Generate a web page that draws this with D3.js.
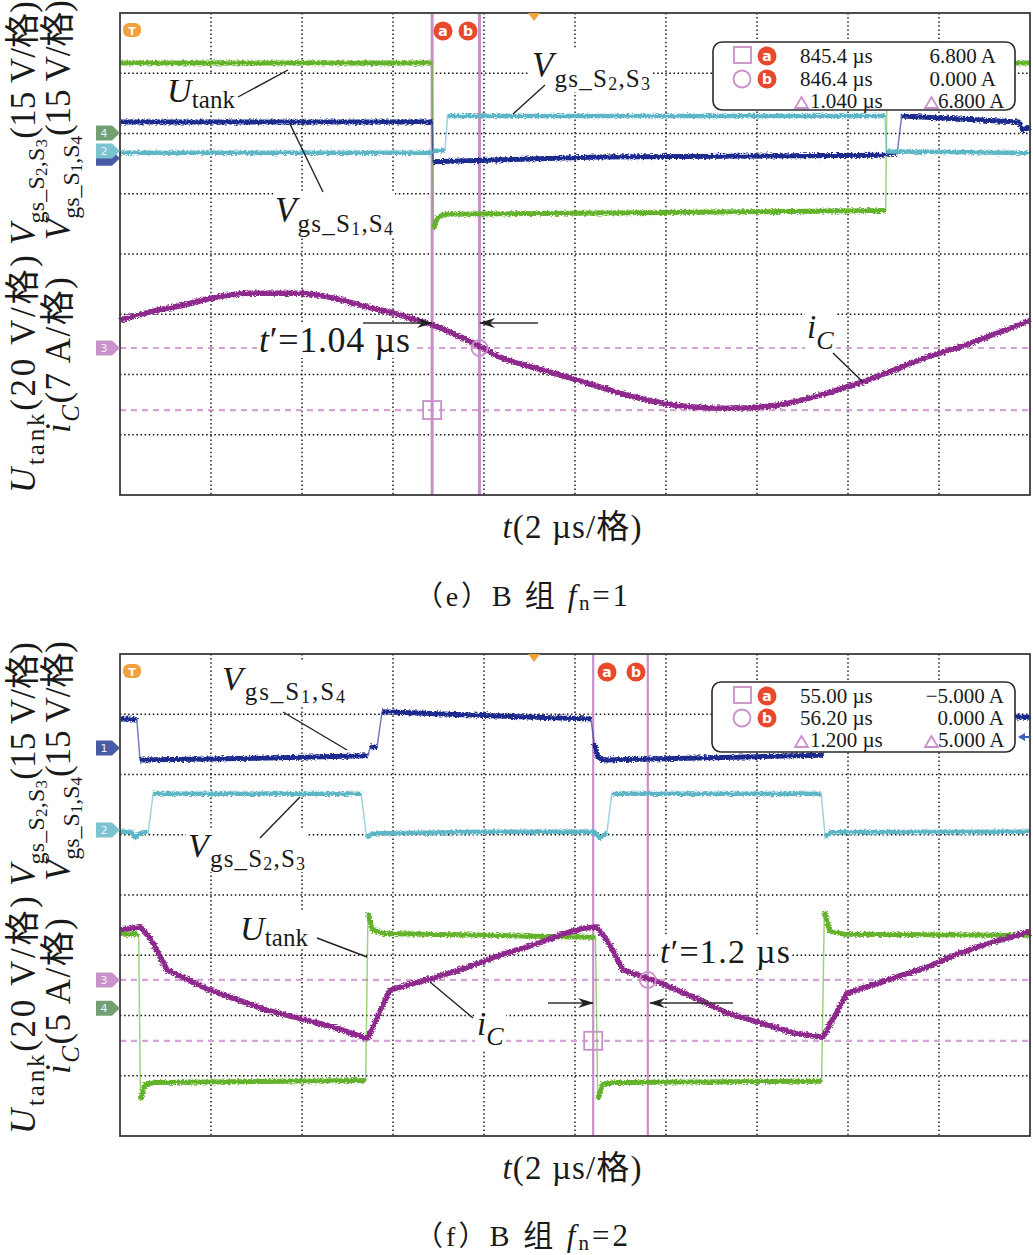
<!DOCTYPE html>
<html><head><meta charset="utf-8">
<script src="https://cdn.jsdelivr.net/npm/d3@7"></script>
<style>
html,body{margin:0;padding:0;background:#fff;}
svg{display:block;}
</style></head><body>
<svg id="chart" width="1033" height="1255"></svg>
<script>
// ================= DATA =================
// time axis: 10 div x 2 µs ; vertical: 8 div (values in divisions from bottom)
const timeDomain = [0, 20];
const divDomain = [0, 8];
const gridTimes = [2, 4, 6, 8, 10, 12, 14, 16, 18];
const gridDivs = [1, 2, 3, 4, 5, 6, 7];

// ---- panel (e) B 组 fn=1 ----
const eUtank = [
  [[0, 7.17], [6.86, 7.17]],
  [[6.89, 4.42], [6.96, 4.58], [7.10, 4.66], [12.0, 4.69], [16.83, 4.72]],
  [[16.86, 7.16], [20, 7.17]]
];
const eVgsS1S4 = [
  [[0, 6.19], [6.86, 6.19]],
  [[6.88, 5.53], [10.5, 5.61], [16.81, 5.64]],
  [[16.84, 5.67], [17.08, 5.67]],
  [[17.18, 6.29], [19.0, 6.22], [19.75, 6.19], [19.85, 6.06], [20, 6.10]]
];
const eVgsS2S3 = [
  [[0, 5.68], [6.86, 5.68]],
  [[6.88, 5.71], [7.14, 5.72]],
  [[7.20, 6.29], [16.81, 6.29]],
  [[16.85, 5.70], [20, 5.68]]
];
const eIcT = [0, 0.66, 1.38, 2.02, 2.86, 3.96, 4.68, 5.43, 6.00, 6.53, 6.88, 7.63, 7.98, 8.35, 9.08, 9.82, 10.55, 10.99, 11.87, 12.59, 13.34, 14.07, 14.79, 15.54, 16.26, 16.99, 17.74, 18.46, 19.19, 20];
const eIcV = [2.90, 3.04, 3.15, 3.27, 3.35, 3.35, 3.27, 3.12, 3.02, 2.90, 2.82, 2.57, 2.44, 2.29, 2.12, 1.96, 1.79, 1.69, 1.53, 1.46, 1.44, 1.46, 1.54, 1.69, 1.86, 2.07, 2.29, 2.46, 2.66, 2.90];
const eCursorT = [6.86, 7.90];          // cursor a, b (µs)
const eRefLevels = [2.44, 1.41];         // iC zero level, cursor-a level (div)
const eChanZero = [5.59, 5.71, 2.44, 6.01]; // ch1..ch4 offset markers (div)
const eReadTimes = ['845.4 µs', '846.4 µs', '1.040 µs'];
const eReadAmps = ['6.800 A', '0.000 A', '6.800 A'];

// ---- panel (f) B 组 fn=2 ----
const fVgsS1S4 = [
  [[0, 6.92], [0.37, 6.92]],
  [[0.44, 6.24], [3.0, 6.27], [5.45, 6.31]],
  [[5.50, 6.46], [5.65, 6.46]],
  [[5.76, 7.04], [8.0, 6.98], [10.35, 6.92]],
  [[10.42, 6.52], [10.50, 6.30], [10.60, 6.24], [13.0, 6.28], [15.45, 6.32]],
  [[15.50, 6.46], [15.65, 6.46]],
  [[15.76, 7.02], [20, 6.95]]
];
const fVgsS2S3 = [
  [[0, 5.05], [0.25, 5.05], [0.33, 4.95], [0.45, 5.03], [0.62, 5.05]],
  [[0.73, 5.68], [5.30, 5.68]],
  [[5.42, 4.95], [5.55, 5.02], [8.0, 5.05], [10.40, 5.05], [10.55, 4.95], [10.70, 5.03]],
  [[10.81, 5.68], [15.41, 5.68]],
  [[15.50, 4.96], [15.62, 5.04], [20, 5.05]]
];
const fUtank = [
  [[0, 3.35], [0.41, 3.35]],
  [[0.45, 0.60], [0.55, 0.86], [0.80, 0.89], [5.40, 0.92]],
  [[5.45, 3.71], [5.55, 3.42], [5.80, 3.36], [10.45, 3.30]],
  [[10.50, 0.60], [10.60, 0.86], [10.90, 0.89], [15.42, 0.91]],
  [[15.48, 3.72], [15.60, 3.40], [15.90, 3.35], [20, 3.33]]
];
const fIcT = [0, 0.44, 0.66, 1.03, 1.98, 3.23, 4.68, 5.34, 5.45, 5.93, 6.15, 6.88, 7.63, 8.35, 9.08, 9.82, 10.18, 10.48, 10.77, 11.05, 11.87, 12.59, 13.34, 14.07, 14.79, 15.45, 15.98, 16.99, 17.74, 18.46, 19.19, 20];
const fIcV = [3.42, 3.47, 3.29, 2.76, 2.42, 2.09, 1.81, 1.64, 1.63, 2.42, 2.47, 2.62, 2.80, 3.00, 3.17, 3.37, 3.45, 3.47, 3.17, 2.76, 2.54, 2.31, 2.04, 1.88, 1.71, 1.64, 2.37, 2.62, 2.80, 3.04, 3.22, 3.39];
const fCursorT = [10.40, 11.60];
const fRefLevels = [2.59, 1.58];
const fChanZero = [6.44, 5.08, 2.59, 2.12];
const fReadTimes = ['55.00 µs', '56.20 µs', '1.200 µs'];
const fReadAmps = ['−5.000 A', '0.000 A', '5.000 A'];

// ================= STYLE =================
const SERIF = "'Liberation Serif','Times New Roman','Noto Sans CJK SC',serif";
const COL = {
  green: '#63b32b', blue: '#1b2a8e', cyan: '#5cb6c7', purple: '#8e2a8e',
  cursor: '#c98fc9', ref: '#d7a2d7', badge: '#e8492c', orange: '#f2a23c',
  tag1: '#4a5ba6', tag2: '#7cc3d0', tag3: '#c992c9', tag4: '#72a072'
};
const INK = '#1a1a1a';

const svg = d3.select('#chart');
const defs = svg.append('defs');
const filt = defs.append('filter').attr('id', 'jit')
  .attr('filterUnits', 'userSpaceOnUse').attr('x', 0).attr('y', 0).attr('width', 1033).attr('height', 1255);
filt.append('feTurbulence').attr('type', 'fractalNoise').attr('baseFrequency', '0.45 0.9')
  .attr('numOctaves', 2).attr('seed', 7).attr('result', 'n');
filt.append('feDisplacementMap').attr('in', 'SourceGraphic').attr('in2', 'n')
  .attr('scale', 5).attr('xChannelSelector', 'R').attr('yChannelSelector', 'G');

defs.append('marker').attr('id', 'arr').attr('viewBox', '0 0 16 10')
  .attr('refX', 15).attr('refY', 5).attr('markerWidth', 16).attr('markerHeight', 10)
  .attr('markerUnits', 'userSpaceOnUse').attr('orient', 'auto')
  .append('path').attr('d', 'M0,0 L16,5 L0,10 L5,5 Z').attr('fill', '#222');

// ---------- rich text helper ----------
function rich(g, x, y, parts, o = {}) {
  const t = g.append('text').attr('x', x).attr('y', y)
    .attr('font-family', SERIF).attr('fill', INK);
  if (o.anchor) t.attr('text-anchor', o.anchor);
  if (o.rotate) t.attr('transform', `rotate(-90 ${x} ${y})`);
  let prev = 0;
  parts.forEach(([s, size, off, it]) => {
    t.append('tspan').attr('dy', (off || 0) - prev).attr('font-size', size)
      .attr('font-style', it ? 'italic' : 'normal').text(s);
    prev = off || 0;
  });
  if (o.len) t.attr('textLength', o.len).attr('lengthAdjust', 'spacing');
  if (o.bg) {
    const b = t.node().getBBox();
    g.insert('rect', () => t.node()).attr('x', b.x - 2).attr('y', b.y + 2)
      .attr('width', b.width + 4).attr('height', b.height - 4).attr('fill', '#fff');
  }
  return t;
}
function vgs(n1, n2, M, S, D, o1, o2) {
  return [['V', M, 0, true], ['gs_S', S, o1], [n1, D, o2], [',', S, o1], ['S', S, o1], [n2, D, o2]];
}
function leader(g, pts) {
  g.append('line').attr('x1', pts[0]).attr('y1', pts[1]).attr('x2', pts[2]).attr('y2', pts[3])
    .attr('stroke', '#222').attr('stroke-width', 1.4);
}
function arrow(g, x1, y1, x2, y2) {
  g.append('line').attr('x1', x1).attr('y1', y1).attr('x2', x2).attr('y2', y2)
    .attr('stroke', '#333').attr('stroke-width', 1.6).attr('marker-end', 'url(#arr)');
}
function badge(g, cx, cy, letter) {
  g.append('circle').attr('cx', cx).attr('cy', cy).attr('r', 9.5).attr('fill', COL.badge);
  g.append('text').attr('x', cx).attr('y', cy + 5).attr('text-anchor', 'middle')
    .attr('font-family', 'DejaVu Sans, sans-serif').attr('font-weight', 'bold')
    .attr('font-size', 14).attr('fill', '#fff').text(letter);
}

// ---------- panel ----------
function drawPanel(P) {
  const x = d3.scaleLinear().domain(timeDomain).range([120, 1030]);
  const y = d3.scaleLinear().domain(divDomain).range([P.bottom, P.top]);
  const g = svg.append('g');

  // grid
  g.selectAll(null).data(gridTimes).join('line')
    .attr('x1', d => x(d)).attr('x2', d => x(d)).attr('y1', y(8)).attr('y2', y(0))
    .attr('stroke', '#111').attr('stroke-width', 1.4).attr('stroke-dasharray', '1.5,2.6');
  g.selectAll(null).data(gridDivs).join('line')
    .attr('y1', d => y(d)).attr('y2', d => y(d)).attr('x1', x(0)).attr('x2', x(20))
    .attr('stroke', '#111').attr('stroke-width', 1.4).attr('stroke-dasharray', '1.5,2.6');

  // reference dashed levels
  g.selectAll(null).data(P.ref).join('line')
    .attr('x1', x(0)).attr('x2', x(20)).attr('y1', d => y(d)).attr('y2', d => y(d))
    .attr('stroke', COL.ref).attr('stroke-width', 2.2).attr('stroke-dasharray', '6,5');

  // cursors
  g.selectAll(null).data(P.cursors).join('line')
    .attr('x1', d => x(d)).attr('x2', d => x(d)).attr('y1', y(8)).attr('y2', y(0))
    .attr('stroke', COL.cursor).attr('stroke-width', P.cursorW);

  // traces
  const line = d3.line().x(d => x(d[0])).y(d => y(d[1]));
  P.traces.forEach(tr => {
    if (tr.segs) {
      g.append('path').attr('d', line(tr.segs.flat())).attr('fill', 'none')
        .attr('stroke', tr.color).attr('stroke-opacity', 0.6).attr('stroke-width', 1.5);
      g.selectAll(null).data(tr.segs).join('path').attr('d', d => line(d)).attr('fill', 'none')
        .attr('stroke', tr.color).attr('stroke-width', tr.w).attr('stroke-linejoin', 'round')
        .attr('stroke-linecap', 'butt').attr('filter', 'url(#jit)');
    } else {
      const pts = tr.t.map((t, i) => [t, tr.v[i]]);
      const l2 = d3.line().x(d => x(d[0])).y(d => y(d[1])).curve(tr.curve);
      g.append('path').attr('d', l2(pts)).attr('fill', 'none')
        .attr('stroke', tr.color).attr('stroke-width', tr.w).attr('stroke-linejoin', 'round')
        .attr('filter', 'url(#jit)');
    }
  });

  // cursor markers
  g.append('rect').attr('x', x(P.cursors[0]) - 9).attr('y', y(P.ref[1]) - 9)
    .attr('width', 18).attr('height', 18).attr('fill', 'none')
    .attr('stroke', COL.cursor).attr('stroke-width', 1.8);
  g.append('circle').attr('cx', x(P.cursors[1])).attr('cy', y(P.ref[0])).attr('r', 8)
    .attr('fill', 'none').attr('stroke', COL.cursor).attr('stroke-width', 1.8);

  // frame
  g.append('rect').attr('x', x(0)).attr('y', y(8)).attr('width', x(20) - x(0))
    .attr('height', y(0) - y(8)).attr('fill', 'none').attr('stroke', '#3a3a3a').attr('stroke-width', 1.8);

  // trigger markers
  g.append('path').attr('d', `M${x(9.1) - 6},${y(8)} L${x(9.1) + 6},${y(8)} L${x(9.1)},${y(8) + 8} Z`)
    .attr('fill', COL.orange);
  g.append('rect').attr('x', 123).attr('y', y(8) + 10).attr('width', 18).attr('height', 14)
    .attr('rx', 6).attr('fill', COL.orange);
  g.append('text').attr('x', 132).attr('y', y(8) + 22).attr('text-anchor', 'middle')
    .attr('font-family', 'DejaVu Sans, sans-serif').attr('font-weight', 'bold')
    .attr('font-size', 11).attr('fill', '#fff').text('T');

  // badges a, b
  badge(g, P.badgeX[0], y(8) + 18, 'a');
  badge(g, P.badgeX[1], y(8) + 18, 'b');

  // channel offset tags
  const tagCol = [COL.tag1, COL.tag2, COL.tag3, COL.tag4];
  P.tagOrder.forEach(i => {
    const yy = y(P.zero[i]);
    g.append('path').attr('d', `M96,${yy - 7.5} H112 L120,${yy} L112,${yy + 7.5} H96 Z`)
      .attr('fill', tagCol[i]);
    if (!P.hideTag.includes(i)) {
      g.append('text').attr('x', 104).attr('y', yy + 4).attr('text-anchor', 'middle')
        .attr('font-family', 'DejaVu Sans, sans-serif').attr('font-size', 11)
        .attr('fill', '#eef').text(String(i + 1));
    }
  });

  // readout box
  const L = P.legend;
  g.append('rect').attr('x', L.x0).attr('y', L.y0).attr('width', L.x1 - L.x0)
    .attr('height', L.y1 - L.y0).attr('rx', 9).attr('fill', '#fff')
    .attr('stroke', '#2a2a2a').attr('stroke-width', 1.6);
  const rb = L.rows;
  g.append('rect').attr('x', 734).attr('y', rb[0] - 16).attr('width', 17).attr('height', 16)
    .attr('fill', 'none').attr('stroke', COL.cursor).attr('stroke-width', 1.8);
  g.append('circle').attr('cx', 742).attr('cy', rb[1] - 7).attr('r', 8.5)
    .attr('fill', 'none').attr('stroke', COL.cursor).attr('stroke-width', 1.8);
  badge(g, 767, rb[0] - 7, 'a');
  badge(g, 767, rb[1] - 7, 'b');
  [795, 925].forEach(tx => {
    g.append('path').attr('d', `M${tx},${rb[2]} L${tx + 13},${rb[2]} L${tx + 6.5},${rb[2] - 11} Z`)
      .attr('fill', 'none').attr('stroke', COL.cursor).attr('stroke-width', 1.8);
  });
  P.readTimes.forEach((s, i) => {
    g.append('text').attr('x', i < 2 ? 800 : 810).attr('y', rb[i])
      .attr('font-family', SERIF).attr('font-size', 21).attr('fill', INK).text(s);
  });
  P.readAmps.forEach((s, i) => {
    const t = g.append('text').attr('y', rb[i]).attr('font-family', SERIF)
      .attr('font-size', 21).attr('fill', INK).text(s);
    if (i < 2) t.attr('x', L.ampEnd).attr('text-anchor', 'end'); else t.attr('x', 938);
  });
  return { g, x, y };
}

// ================= PANEL E =================
const pe = drawPanel({
  top: 13, bottom: 495, cursorW: 3, badgeX: [443, 468],
  ref: eRefLevels, cursors: eCursorT, zero: eChanZero, tagOrder: [0, 1, 3, 2], hideTag: [0],
  traces: [
    { segs: eUtank, color: COL.green, w: 5 },
    { segs: eVgsS1S4, color: COL.blue, w: 5 },
    { segs: eVgsS2S3, color: COL.cyan, w: 4.5 },
    { t: eIcT, v: eIcV, color: COL.purple, w: 5.5, curve: d3.curveMonotoneX }
  ],
  legend: { x0: 713, x1: 1015, y0: 42, y1: 110, rows: [63, 86, 108], ampEnd: 996 },
  readTimes: eReadTimes, readAmps: eReadAmps
});

// ================= PANEL F =================
const pf = drawPanel({
  top: 654, bottom: 1136, cursorW: 2.2, badgeX: [607, 636],
  ref: fRefLevels, cursors: fCursorT, zero: fChanZero, tagOrder: [0, 1, 2, 3], hideTag: [],
  traces: [
    { segs: fVgsS2S3, color: COL.cyan, w: 4.5 },
    { segs: fVgsS1S4, color: COL.blue, w: 5 },
    { segs: fUtank, color: COL.green, w: 5 },
    { t: fIcT, v: fIcV, color: COL.purple, w: 5.5, curve: d3.curveLinear }
  ],
  legend: { x0: 712, x1: 1015, y0: 682, y1: 752, rows: [703, 725, 747], ampEnd: 1004 },
  readTimes: fReadTimes, readAmps: fReadAmps
});

// right-side ch1 arrow in panel f
pf.g.append('path').attr('d', 'M1018,737 L1025,733 L1025,736 L1030,736 L1030,738 L1025,738 L1025,741 Z')
  .attr('fill', '#3a62b8');

// ================= ANNOTATIONS =================
const A = svg.append('g');
// panel e
rich(A, 167, 102, [['U', 34, 0, true], ['tank', 25, 6]], { bg: true, len: 68 });
leader(A, [238, 97, 288, 70]);
rich(A, 532, 77, vgs('2', '3', 35, 25, 18, 10, 13), { bg: true, len: 118 });
leader(A, [545, 85, 513, 114]);
rich(A, 275, 222, vgs('1', '4', 35, 25, 18, 10, 13), { bg: true, len: 118 });
leader(A, [290, 124, 323, 192]);
rich(A, 259, 352, [['t', 36, 0, true], ['′', 36, 0], ['=1.04 µs', 36, 0]], { bg: true, len: 151 });
arrow(A, 363, 323, 432, 323);
arrow(A, 538, 323, 480, 323);
rich(A, 807, 338, [['i', 33, 0, true], ['C', 26, 11, true]], { bg: true });
leader(A, [833, 353, 863, 382]);

// panel f
rich(A, 222, 690, vgs('1', '4', 34, 25, 18, 10, 13), { bg: true, len: 123 });
leader(A, [283, 712, 347, 750]);
rich(A, 188, 857, vgs('2', '3', 34, 25, 18, 10, 13), { bg: true, len: 117 });
leader(A, [260, 838, 300, 797]);
rich(A, 240, 940, [['U', 34, 0, true], ['tank', 25, 6]], { bg: true, len: 68 });
leader(A, [317, 938, 367, 957]);
rich(A, 477, 1035, [['i', 33, 0, true], ['C', 26, 10, true]], { bg: true });
leader(A, [473, 1018, 430, 982]);
rich(A, 660, 963, [['t', 34, 0, true], ['′', 34, 0], ['=1.2 µs', 34, 0]], { bg: true, len: 130 });
arrow(A, 548, 1003, 593, 1003);
arrow(A, 733, 1003, 650, 1003);

// ================= AXIS LABELS & CAPTIONS =================
[[0, '7 A', '1', 606, 538], [641, '5 A', '2', 1246, 1179]].forEach(([dy, amp, fn, capY, xlY], k) => {
  rich(A, 35, 245 + dy, vgs('2', '3', 35, 24, 17, 9, 12).concat([['(15 V/格)', 35, 0]]), { rotate: true, len: 244 });
  rich(A, 35, 493 + dy, [['U', 35, 0, true], ['tank', 25, 9], ['(20 V/格)', 35, 0]], { rotate: true, len: 238 });
  rich(A, 70, 240 + dy, vgs('1', '4', 35, 24, 17, 9, 12).concat([['(15 V/格)', 35, 0]]), { rotate: true, len: 240 });
  rich(A, 70, 433 + dy, [['i', 35, 0, true], ['C', 25, 9, true], [`(${amp}/格)`, 35, 0]], { rotate: true, len: 156 });
  rich(A, 572, xlY, [['t', 33, 0, true], ['(2 µs/格)', 33, 0]], { anchor: 'middle', len: 139 });
  rich(A, 415, capY, [[k === 0 ? '（e）' : '（f）', 28, 0], ['B 组 ', 30, 0], ['f', 31, 0, true], ['n', 21, 4], ['=' + fn, 31, 0]], { len: 213 });
});
</script>
</body></html>
